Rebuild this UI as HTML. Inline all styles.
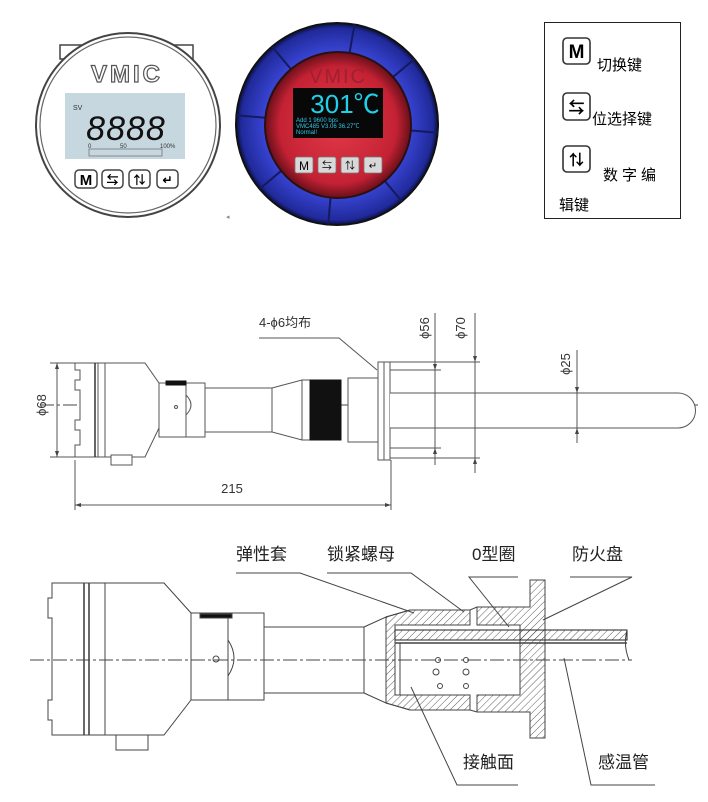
<!DOCTYPE html>
<html><head><meta charset="utf-8"><style>
html,body{margin:0;padding:0;background:#fff;}
svg{display:block;}
text{font-family:"Liberation Sans","Noto Sans CJK SC",sans-serif;}
.cj{font-family:"Liberation Serif","Noto Serif CJK SC",serif;}
</style></head><body>
<svg width="708" height="802" viewBox="0 0 708 802" xmlns="http://www.w3.org/2000/svg">
<defs>
<radialGradient id="red" cx="50%" cy="50%" r="50%"><stop offset="0" stop-color="#e23a48"/><stop offset="0.8" stop-color="#c42234"/><stop offset="1" stop-color="#6a0f1a"/></radialGradient>
<radialGradient id="blue" cx="50%" cy="50%" r="50%"><stop offset="0.7" stop-color="#3a46d8"/><stop offset="0.95" stop-color="#202a9a"/><stop offset="1" stop-color="#0a0f40"/></radialGradient>
<pattern id="hat" width="5" height="5" patternUnits="userSpaceOnUse" patternTransform="rotate(45)"><line x1="0" y1="0" x2="0" y2="5" stroke="#333" stroke-width="0.8"/></pattern>
</defs>

<!-- LEFT GAUGE -->
<rect x="60" y="45" width="133" height="14" fill="#fff" stroke="#444" stroke-width="1.5"/>
<circle cx="128" cy="125" r="92" fill="#fff" stroke="#444" stroke-width="2"/>
<circle cx="128" cy="125" r="88" fill="#fff" stroke="#666" stroke-width="1.2"/>
<text x="127" y="82" text-anchor="middle" font-size="24" font-weight="bold" fill="#fff" stroke="#555" stroke-width="1.2" letter-spacing="3">VMIC</text>
<rect x="65" y="93" width="120" height="66" fill="#c7d7df"/>
<text x="73" y="110" font-size="7" fill="#333">SV</text>
<text x="126" y="140" text-anchor="middle" font-size="34" fill="#111" font-style="italic" letter-spacing="1">8888</text>
<text x="88" y="148" font-size="6" fill="#333">0</text><text x="120" y="148" font-size="6" fill="#333">50</text><text x="160" y="148" font-size="6" fill="#333">100%</text>
<rect x="89" y="149" width="73" height="7" fill="none" stroke="#777" stroke-width="0.8"/>
<g stroke="#444" stroke-width="1.5" fill="#fff">
<rect x="75" y="170" width="22" height="18" rx="4"/><rect x="102" y="170" width="21" height="18" rx="4"/><rect x="129" y="170" width="21" height="18" rx="4"/><rect x="157" y="170" width="21" height="18" rx="4"/></g>
<text x="86" y="185" text-anchor="middle" font-size="15" font-weight="bold" font-family="Liberation Serif">M</text>
<text x="112.5" y="184" text-anchor="middle" font-size="12" font-weight="bold">⇆</text>
<text x="139.5" y="184" text-anchor="middle" font-size="12" font-weight="bold">⇅</text>
<text x="167.5" y="184" text-anchor="middle" font-size="12" font-weight="bold">↵</text>

<!-- RIGHT GAUGE -->
<circle cx="337" cy="124" r="101" fill="url(#blue)" stroke="#111" stroke-width="2"/>
<g stroke="#151a60" stroke-width="2">
<line x1="337" y1="124" x2="337" y2="23" transform="rotate(10 337 124)"/>
<line x1="337" y1="124" x2="337" y2="23" transform="rotate(50 337 124)"/>
<line x1="337" y1="124" x2="337" y2="23" transform="rotate(95 337 124)"/>
<line x1="337" y1="124" x2="337" y2="23" transform="rotate(140 337 124)"/>
<line x1="337" y1="124" x2="337" y2="23" transform="rotate(185 337 124)"/>
<line x1="337" y1="124" x2="337" y2="23" transform="rotate(230 337 124)"/>
<line x1="337" y1="124" x2="337" y2="23" transform="rotate(275 337 124)"/>
<line x1="337" y1="124" x2="337" y2="23" transform="rotate(320 337 124)"/>
</g>
<circle cx="338" cy="125" r="73" fill="url(#red)" stroke="#2a1010" stroke-width="2"/>
<text x="338" y="83" text-anchor="middle" font-size="20" fill="#a02030" letter-spacing="2">VMIC</text>
<rect x="293" y="88" width="90" height="50" fill="#080808"/>
<text x="345" y="113" text-anchor="middle" font-size="26" fill="#1fd0e8">301℃</text>
<text x="296" y="122" font-size="6" fill="#30c8e8">Add  1   9600 bps</text>
<text x="296" y="128" font-size="6" fill="#30c8e8">VMC485 V3.06  36.27℃</text>
<text x="296" y="134" font-size="6" fill="#30c8e8">Normal!</text>
<g fill="#d8d8d8" stroke="#777" stroke-width="0.8">
<rect x="295" y="157" width="18" height="16" rx="2"/><rect x="318" y="157" width="18" height="16" rx="2"/><rect x="341" y="157" width="18" height="16" rx="2"/><rect x="364" y="157" width="18" height="16" rx="2"/></g>
<text x="304" y="170" text-anchor="middle" font-size="12" font-family="Liberation Serif">M</text>
<text x="327" y="169" text-anchor="middle" font-size="10">⇆</text>
<text x="350" y="169" text-anchor="middle" font-size="10">⇅</text>
<text x="373" y="169" text-anchor="middle" font-size="10">↵</text>
<text x="226" y="219" font-size="7" fill="#888">◂</text>

<!-- LEGEND -->
<rect x="544.5" y="22.5" width="136" height="196" fill="#fff" stroke="#222" stroke-width="1"/>
<g stroke="#333" stroke-width="1.6" fill="#fff">
<rect x="563" y="38" width="27" height="26" rx="4"/><rect x="563" y="93" width="27" height="27" rx="4"/><rect x="563" y="146" width="27" height="26" rx="4"/></g>
<text x="576.5" y="58" text-anchor="middle" font-size="19" font-weight="bold" font-family="Liberation Serif">M</text>
<text x="576.5" y="113" text-anchor="middle" font-size="16" font-weight="bold">⇆</text>
<text x="576.5" y="165" text-anchor="middle" font-size="15" font-weight="bold">⇅</text>
<text x="597" y="70" font-size="15">切换键</text>
<text x="592" y="124" font-size="15">位选择键</text>
<text x="603" y="180" font-size="15" letter-spacing="4">数字编</text>
<text x="559" y="210" font-size="15">辑键</text>

<!-- MIDDLE DRAWING -->
<g fill="none" stroke="#555" stroke-width="1">
<line x1="40" y1="405" x2="700" y2="405" stroke-dasharray="14,3,3,3" stroke="#444"/>
<!-- housing -->
<path d="M75,363 H145 L159,383 V428 L145,457 H75 V445 H80 V430 H75 V420 H80 V390 H75 V380 H80 V370 H75 Z" fill="#fff"/>
<line x1="95" y1="363" x2="95" y2="457" stroke-width="1.5" stroke="#333"/>
<line x1="98" y1="363" x2="98" y2="457"/>
<line x1="105" y1="363" x2="105" y2="457"/>
<rect x="111" y="455" width="21" height="10" fill="#fff"/>
<!-- neck -->
<rect x="159" y="383" width="46" height="54" fill="#fff"/>
<line x1="186" y1="383" x2="186" y2="437"/>
<path d="M186,395 Q196,405 186,415"/>
<circle cx="176" cy="407" r="1.5"/>
<rect x="166" y="381" width="20" height="4" fill="#111" stroke="#111"/>
<!-- tube -->
<rect x="205" y="388" width="67" height="44" fill="#fff"/>
<path d="M272,388 L302,380 V440 L272,432 Z" fill="#fff"/>
<rect x="302" y="380" width="8" height="60" fill="#fff"/>
<rect x="310" y="380" width="31" height="60" fill="#111" stroke="#111"/>
<rect x="348" y="378" width="30" height="64" fill="#fff"/>
<rect x="378" y="362" width="12" height="98" fill="#fff"/>
<line x1="384" y1="362" x2="384" y2="460"/>
<!-- probe -->
<path d="M390,393 H678 A17,17 0 0 1 678,428 H390" fill="#fff"/>
<line x1="577" y1="393" x2="577" y2="428"/>
<!-- dims -->
<line x1="50" y1="363" x2="75" y2="363"/><line x1="50" y1="457" x2="75" y2="457"/>
<line x1="57" y1="363" x2="57" y2="457"/>
<line x1="75" y1="460" x2="75" y2="510"/><line x1="391" y1="460" x2="391" y2="510"/>
<line x1="75" y1="505" x2="391" y2="505"/>
<line x1="390" y1="362" x2="480" y2="362"/><line x1="390" y1="370" x2="441" y2="370"/>
<line x1="390" y1="448" x2="441" y2="448"/><line x1="390" y1="458" x2="480" y2="458"/>
<line x1="435" y1="313" x2="435" y2="465"/><line x1="475" y1="313" x2="475" y2="473"/>
<line x1="577" y1="350" x2="577" y2="443"/>
<polyline points="259,338 339,338 377,370"/>
</g>
<g fill="#444">
<path d="M57,363 l-2,6 h4z"/><path d="M57,457 l-2,-6 h4z"/>
<path d="M75,505 l6,-2 v4z"/><path d="M391,505 l-6,-2 v4z"/>
<path d="M435,370 l-2,-6 h4z"/><path d="M435,448 l-2,6 h4z"/>
<path d="M475,362 l-2,-6 h4z"/><path d="M475,458 l-2,6 h4z"/>
<path d="M577,393 l-2,-6 h4z"/><path d="M577,428 l-2,6 h4z"/>
</g>
<g class="cj" font-size="13" fill="#333">
<text x="259" y="327">4-ϕ6均布</text>
<text x="232" y="493" text-anchor="middle">215</text>
<text transform="translate(46,405) rotate(-90)" text-anchor="middle">ϕ68</text>
<text transform="translate(429,328) rotate(-90)" text-anchor="middle">ϕ56</text>
<text transform="translate(465,328) rotate(-90)" text-anchor="middle">ϕ70</text>
<text transform="translate(570,364) rotate(-90)" text-anchor="middle">ϕ25</text>
</g>

<!-- BOTTOM DRAWING -->
<g fill="none" stroke="#444" stroke-width="1">
<path d="M52,583 H164 L191,613 V700 L164,735 H52 V720 H48 V700 H52 V618 H48 V598 H52 Z" fill="#fff"/>
<line x1="84" y1="583" x2="84" y2="735" stroke-width="1.6"/>
<line x1="89" y1="583" x2="89" y2="735" stroke-width="1.6"/>
<line x1="105" y1="583" x2="105" y2="735"/>
<rect x="116" y="735" width="32" height="15" fill="#fff"/>
<rect x="191" y="613" width="73" height="87" fill="#fff"/>
<line x1="228" y1="613" x2="228" y2="700"/>
<path d="M228,640 Q240,658 228,676"/>
<circle cx="216" cy="659" r="3"/>
<rect x="200" y="614" width="32" height="4" fill="#111"/>
<rect x="264" y="627" width="100" height="66" fill="#fff"/>
<path d="M364,627 L386,617 V703 L364,693 Z" fill="#fff"/>
<!-- nut section -->
<path d="M386,617 L410,610 H470 L477,607 H530 V580 H545 V738 H530 V712 H477 L470,710 H410 L386,703 Z" fill="#fff"/>
<path d="M386,617 L410,610 H470 V625 H395 V695 H470 V710 H410 L386,703 Z" fill="url(#hat)"/>
<path d="M477,607 H530 V580 H545 V738 H530 V712 H477 V695 H520 V625 H477 Z" fill="url(#hat)"/>
<line x1="400" y1="643" x2="470" y2="643"/>
<line x1="400" y1="643" x2="400" y2="695"/>
<circle cx="436" cy="672" r="3"/><circle cx="466" cy="672" r="3"/>
<circle cx="440" cy="686" r="2.5"/><circle cx="466" cy="686" r="2.5"/>
<circle cx="438" cy="660" r="2.5"/><circle cx="466" cy="660" r="2.5"/>
<!-- probe tube -->
<rect x="395" y="630" width="232" height="10" fill="url(#hat)" stroke="#222"/>
<line x1="395" y1="643" x2="627" y2="643" stroke-width="1.4"/>
<path d="M627,630 q-4,15 2,30"/>
<line x1="30" y1="660" x2="632" y2="660" stroke-dasharray="14,3,3,3"/>
<!-- leaders -->
<polyline points="236,573 300,573 414,613"/>
<polyline points="327,573 411,573 464,612"/>
<polyline points="518,577 469,577 509,627"/>
<polyline points="570,577 632,577 543,620"/>
<polyline points="518,785 457,785 411,687"/>
<polyline points="655,785 591,785 564,658"/>
</g>
<g class="cj" font-size="17" fill="#222">
<text x="236" y="560">弹性套</text>
<text x="327" y="560">锁紧螺母</text>
<text x="472" y="560">0型圈</text>
<text x="572" y="560">防火盘</text>
<text x="463" y="768">接触面</text>
<text x="598" y="768">感温管</text>
</g>
</svg>
</body></html>
